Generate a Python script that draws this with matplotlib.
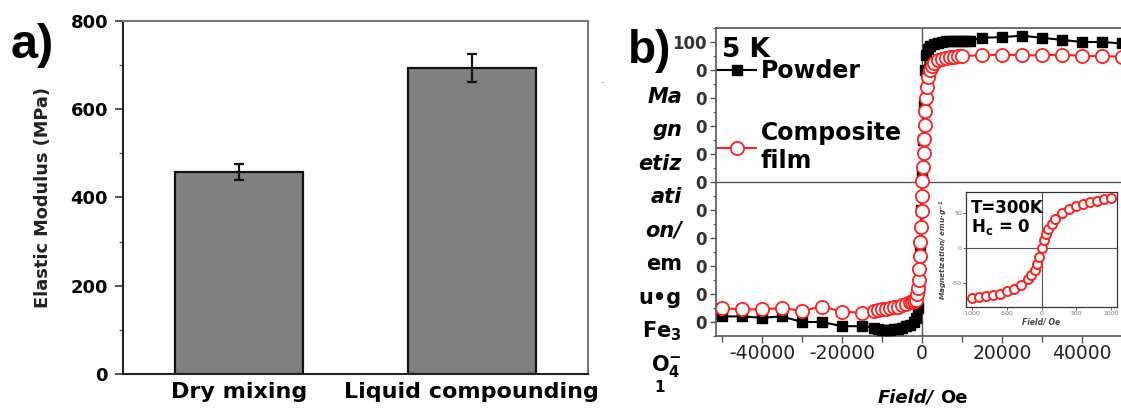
import numpy as np
import matplotlib
matplotlib.use("Agg")
import matplotlib.pyplot as plt
from matplotlib.ticker import MultipleLocator, FixedLocator

plt.rcParams['font.family'] = ['DejaVu Sans']
plt.rcParams['axes.unicode_minus'] = False
plt.rcParams['mathtext.default'] = 'regular'

# ---------------- panel a data ----------------
categories = ['Dry mixing', 'Liquid compounding']
modulus = [458, 693]
modulus_err = [18, 32]
modulus_ticks = [0, 200, 400, 600, 800]

# ---------------- panel b data ----------------
powder_field = [-50000, -45000, -40000, -35000, -30000, -25000, -20000, -15000,
                -12000, -11000, -10000, -9000, -8000, -7000, -6000, -5000, -4000,
                -3000, -2000, -1500, -1000, -700, -400, -200, 0, 200, 400, 700,
                1000, 1500, 2000, 3000, 4000, 5000, 6000, 7000, 8000, 9000, 10000,
                11000, 12000, 15000, 20000, 25000, 30000, 35000, 40000, 45000, 50000]
powder_m = [-96, -96, -97, -96, -100, -100, -103, -103,
            -104, -105, -106, -106, -106, -105, -105, -104, -103,
            -102, -100, -97, -90, -75, -45, -20, 5, 30, 55, 80,
            91, 95, 97, 98.5, 99.5, 100, 100.5, 100.5, 101, 101, 101,
            101, 101, 103, 103.5, 104.5, 103, 101.5, 100, 100, 99]

film_field = [-50000, -45000, -40000, -35000, -30000, -25000, -20000, -15000,
              -12000, -11000, -10000, -9000, -8000, -7000, -6000, -5000, -4000,
              -3000, -2500, -2000, -1500, -1200, -1000, -850, -700, -550, -400,
              -250, -120, 0, 120, 250, 400, 550, 700, 850, 1000, 1200, 1500,
              2000, 2500, 3000, 4000, 5000, 6000, 7000, 8000, 9000, 10000,
              15000, 20000, 25000, 30000, 35000, 40000, 45000, 50000]
film_m = [-90, -91, -91, -90, -92, -89, -92.5, -93.5,
          -92, -91.5, -91, -90.5, -90, -89.5, -89, -88, -87,
          -86, -85.5, -85, -84, -80, -76, -70, -62, -53, -43,
          -32, -21, -10, 1, 11, 21, 31, 41, 51, 60, 68, 75,
          80, 83, 85, 87, 88, 88.5, 89, 89.5, 90, 90,
          90.5, 91, 90.5, 90.5, 91, 90, 90, 89.5]

field_ticks = [-40000, -20000, 0, 20000, 40000]
field_minor = [-50000, -30000, -10000, 10000, 30000, 50000]
m_ticks = [-100, -80, -60, -40, -20, 0, 20, 40, 60, 80, 100]
m_tick_labels = ['0', '0', '0', '0', '0', '0', '0', '0', '0', '0', '100']

inset_field = [-1000, -900, -800, -700, -600, -500, -400, -300, -200, -150, -100,
               -60, -30, 0, 30, 60, 100, 150, 200, 300, 400, 500, 600, 700, 800,
               900, 1000]
inset_m = [-71, -70, -68.5, -67, -65, -61.5, -58, -52, -44, -38, -31,
           -22, -12, 0, 11, 20, 27, 34, 41, 50, 56, 60, 63, 65.5, 67.5,
           69.5, 71]
inset_xticks = [-1000, -500, 0, 500, 1000]
inset_yticks = [-50, 0, 50]

# ---------------- figure ----------------
W, H = 1121, 409
fig = plt.figure(figsize=(W / 100, H / 100), dpi=100)


def fx(px):
    return px / W


def fy(py):
    return 1 - py / H


def rect(x0, y0, x1, y1):
    return [x0 / W, 1 - y1 / H, (x1 - x0) / W, (y1 - y0) / H]


# ---------------- panel a ----------------
axA = fig.add_axes(rect(122.7, 20.7, 588, 374))
pos = np.arange(1, len(categories) + 1)
axA.bar(pos, modulus, width=0.55, color='#808080', edgecolor='#111111',
        linewidth=1.6, zorder=2)
axA.errorbar(pos, modulus, yerr=modulus_err, fmt='none', ecolor='#111111',
             elinewidth=1.6, capsize=3.5, capthick=1.6, zorder=3)
axA.set_xlim(0.5, 2.5)
axA.set_ylim(0, 800)
axA.set_xticks(pos)
axA.set_xticklabels(categories, fontsize=16, fontweight='bold')
axA.tick_params(axis='x', length=0, pad=6)
axA.set_yticks(modulus_ticks)
axA.yaxis.set_minor_locator(MultipleLocator(100))
axA.tick_params(axis='y', which='major', length=5.5, width=1.2, direction='out',
                labelsize=13, pad=5, color='#333333')
axA.tick_params(axis='y', which='minor', length=3, width=1.0, color='#555555')
for lbl in axA.get_yticklabels():
    lbl.set_fontweight('bold')
for s in ['left', 'bottom']:
    axA.spines[s].set_color('#222222')
    axA.spines[s].set_linewidth(1.5)
for s in ['top', 'right']:
    axA.spines[s].set_color('#777777')
    axA.spines[s].set_linewidth(1.5)
axA.set_ylabel('Elastic Modulus (MPa)', fontsize=12.8, fontweight='bold',
               color='#222222')
axA.yaxis.set_label_coords(-0.152, 0.5)

fig.text(fx(11), fy(58), 'a)', fontsize=35, fontweight='bold',
         family='Liberation Sans', va='baseline', ha='left')
fig.text(fx(603), fy(83), '.', fontsize=8, color='#444444', ha='center')

# ---------------- panel b ----------------
axB = fig.add_axes(rect(716, 28, 1128, 336))
axB.axhline(0, color='#555555', lw=1.0, zorder=1)
axB.axvline(0, color='#555555', lw=1.0, zorder=1)
hp, = axB.plot(powder_field, powder_m, '-s', color='black', ms=7, lw=1.5,
               zorder=3)
hf, = axB.plot(film_field, film_m, '-o', color='#ff2020', mfc='white',
               mec='#ff2020', mew=1.3, ms=9.5, lw=1.5, zorder=4)
axB.set_xlim(-51500, 51500)
axB.set_ylim(-110, 110)
axB.set_xticks(field_ticks)
axB.xaxis.set_minor_locator(FixedLocator(field_minor))
axB.tick_params(axis='x', which='major', length=5, width=1.0, direction='out',
                labelsize=13.5, pad=1, labelcolor='#222222', color='#555555')
axB.tick_params(axis='x', which='minor', length=4, width=1.0, color='#555555')
axB.set_yticks(m_ticks)
axB.set_yticklabels(m_tick_labels)
axB.yaxis.set_minor_locator(MultipleLocator(10))
axB.tick_params(axis='y', which='major', length=4, width=1.0, direction='out',
                labelsize=12, pad=3, labelcolor='#333333', color='#555555')
axB.tick_params(axis='y', which='minor', length=2, width=0.8, color='#555555')
for lbl in axB.get_yticklabels():
    lbl.set_fontweight('bold')
for s in axB.spines.values():
    s.set_color('#555555')
    s.set_linewidth(1.2)

leg = axB.legend([hp, hf], ['Powder', 'Composite\nfilm'], loc='upper left',
                 bbox_to_anchor=(0.005, 0.898), frameon=False,
                 prop={'weight': 'bold', 'size': 17}, handlelength=1.6,
                 handletextpad=0.2, labelspacing=1.6, borderpad=0,
                 borderaxespad=0, numpoints=1)

fig.text(fx(722), fy(57), '5 K', fontsize=19, fontweight='bold', va='baseline')
fig.text(fx(628), fy(63), 'b)', fontsize=33, fontweight='bold',
         family='Liberation Sans', va='baseline', ha='left')

# y label of panel b, broken into narrow lines as in the figure
ylab_lines = [('Ma', 'italic', 103), ('gn', 'italic', 136.5),
              ('etiz', 'italic', 170), ('ati', 'italic', 203.5),
              ('on/', 'italic', 237), ('em', 'normal', 270.5),
              ('u\u2022g', 'normal', 304), (r'Fe$_\mathbf{3}$', 'normal', 337.5),
              (r'O$_\mathbf{4}^\mathbf{-}$', 'normal', 371)]
for txt, st, yb in ylab_lines:
    fig.text(fx(682), fy(yb), txt, fontsize=15, fontweight='bold',
             fontstyle=st, ha='right', va='baseline')
fig.text(fx(660), fy(392), '1', fontsize=11, fontweight='bold', ha='center',
         va='baseline')

fig.text(fx(878), fy(403), 'Field/', fontsize=13, fontweight='bold',
         fontstyle='italic', ha='left', va='baseline')
fig.text(fx(940), fy(403), 'Oe', fontsize=13, fontweight='bold',
         ha='left', va='baseline')

# ---------------- inset ----------------
axI = fig.add_axes(rect(966, 192, 1117, 307))
axI.set_zorder(5)
axI.axhline(0, color='#555555', lw=0.8, zorder=1)
axI.axvline(0, color='#555555', lw=0.8, zorder=1)
axI.plot(inset_field, inset_m, '-o', color='#ff2020', mfc='white',
         mec='#ff2020', mew=1.4, ms=6.5, lw=1.6, zorder=3)
axI.set_xlim(-1085, 1085)
axI.set_ylim(-84, 80)
axI.set_xticks(inset_xticks)
axI.set_yticks(inset_yticks)
axI.tick_params(axis='both', length=2, width=0.6, labelsize=4.5, pad=1,
                labelcolor='#777777', color='#555555')
for s in axI.spines.values():
    s.set_color('#333333')
    s.set_linewidth(0.9)
axI.set_ylabel(r'Magnetization/ emu$\bullet$g$^{-1}$', fontsize=5.3,
               fontweight='bold', fontstyle='italic', labelpad=1,
               color='#444444')
axI.set_xlabel('Field/ Oe', fontsize=5.5, fontweight='bold',
               fontstyle='italic', labelpad=1, color='#444444')
axI.text(0.03, (307 - 213) / 115, 'T=300K', transform=axI.transAxes,
         fontsize=12, fontweight='bold', va='baseline', ha='left')
axI.text(0.03, (307 - 232) / 115, r'$\mathbf{H_c}$ = 0',
         transform=axI.transAxes, fontsize=12, fontweight='bold',
         va='baseline', ha='left')

fig.savefig('out.png', dpi=100)
